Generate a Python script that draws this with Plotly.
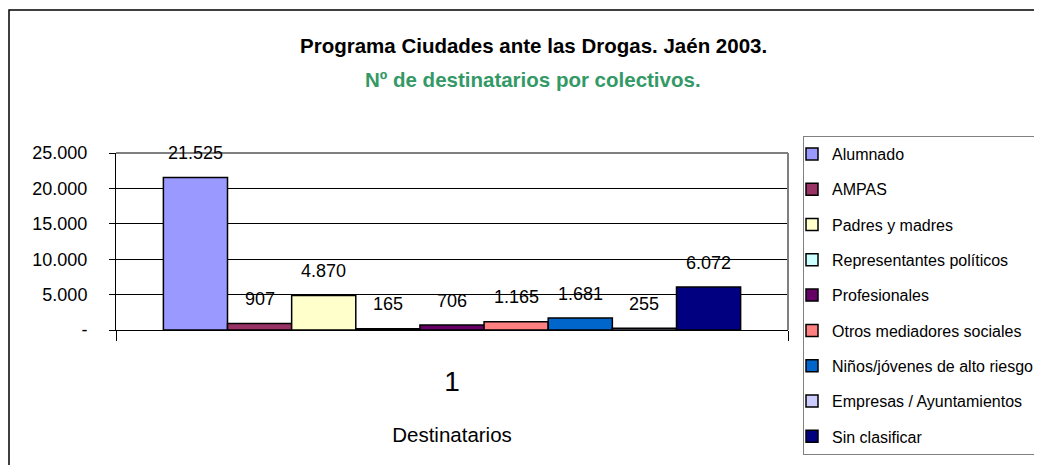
import plotly.graph_objects as go

categoria = ["1"]
colectivos = ["Alumnado", "AMPAS", "Padres y madres", "Representantes políticos",
              "Profesionales", "Otros mediadores sociales", "Niños/jóvenes de alto riesgo",
              "Empresas / Ayuntamientos", "Sin clasificar"]
destinatarios = [21525, 907, 4870, 165, 706, 1165, 1681, 255, 6072]
colores = ["#9999FF", "#993366", "#FFFFCC", "#CCFFFF", "#660066",
           "#FF8080", "#0066CC", "#CCCCFF", "#000080"]
y_ticks = [0, 5000, 10000, 15000, 20000, 25000]
y_ticktext = ["-", "5.000", "10.000", "15.000", "20.000", "25.000"]

FONT = "Liberation Sans, Arial, sans-serif"
BARGAP = 0.141

# la página html deja 8px de margen en el body: la figura se reduce para no provocar scroll
ANCHO, ALTO = 1026, 457
L, T, W, H = 108, 145, 672, 177

fig = go.Figure()
for nombre, valor, color in zip(colectivos, destinatarios, colores):
    fig.add_trace(go.Bar(
        x=categoria, y=[valor], name=nombre, legendgroup=nombre,
        marker=dict(color=color, line=dict(color="black", width=1.5)),
        cliponaxis=False,
    ))

# etiquetas de datos, un poco por encima de cada barra (como en Excel)
ancho = (1 - BARGAP) / len(destinatarios)
etiquetas = []
for i, valor in enumerate(destinatarios):
    etiquetas.append(dict(
        text=f"{valor:,}".replace(",", "."),
        x=-0.5 + BARGAP / 2 + (i + 0.5) * ancho, y=valor, xref="x", yref="y",
        xanchor="center", yanchor="middle", yshift=24.5, showarrow=False,
        font=dict(size=18, family=FONT, color="black"),
    ))

titulos = [
    dict(text="<b>Programa Ciudades ante las Drogas. Jaén 2003.</b>",
         xref="paper", yref="paper", x=(525 - L) / W, y=(T + H - 38) / H,
         xanchor="center", yanchor="middle", showarrow=False,
         font=dict(size=20.5, family=FONT, color="black")),
    dict(text="<b>Nº de destinatarios por colectivos.</b>",
         xref="paper", yref="paper", x=(525 - L) / W, y=(T + H - 72) / H,
         xanchor="center", yanchor="middle", showarrow=False,
         font=dict(size=20.5, family=FONT, color="#339966")),
]

fig.update_layout(
    width=ANCHO, height=ALTO,
    paper_bgcolor="white", plot_bgcolor="white",
    barmode="group", bargap=BARGAP, bargroupgap=0,
    margin=dict(l=L, r=ANCHO - L - W, t=T, b=ALTO - T - H, autoexpand=False),
    font=dict(family=FONT, color="black"),
    showlegend=True,
    legend=dict(
        xref="container", yref="container",
        x=795 / ANCHO, y=1 - 128 / ALTO, xanchor="left", yanchor="top",
        bordercolor="#808080", borderwidth=1, bgcolor="white",
        font=dict(size=16, family=FONT), tracegroupgap=11.5,
        itemwidth=30, indentation=-12, maxheight=400, itemclick=False,
    ),
    xaxis=dict(
        showline=True, linecolor="black", linewidth=1,
        ticks="outside", tickson="boundaries", ticklen=10, tickcolor="black",
        tickfont=dict(size=28, family=FONT), showgrid=False,
        ticklabelstandoff=26,
        title=dict(text="Destinatarios", font=dict(size=20.5, family=FONT), standoff=32),
    ),
    yaxis=dict(
        range=[0, 25000], tickvals=y_ticks, ticktext=y_ticktext,
        showline=True, linecolor="black", linewidth=1,
        ticks="outside", ticklen=6, tickcolor="black",
        gridcolor="black", gridwidth=1, zeroline=False,
        tickfont=dict(size=18, family=FONT), ticklabelstandoff=18,
    ),
    annotations=titulos + etiquetas,
    shapes=[
        dict(type="line", xref="x domain", yref="y domain", x0=0, x1=1, y0=1, y1=1,
             line=dict(color="#808080", width=2)),
        dict(type="line", xref="x domain", yref="y domain", x0=1, x1=1, y0=0, y1=1,
             line=dict(color="#808080", width=2)),
        dict(type="rect", xref="paper", yref="paper",
             x0=(1 - L) / W, x1=1.6, y0=-1.0, y1=(T + H - 2) / H,
             line=dict(color="black", width=1.5), fillcolor="rgba(0,0,0,0)"),
    ],
)

fig.write_html("out.html")
